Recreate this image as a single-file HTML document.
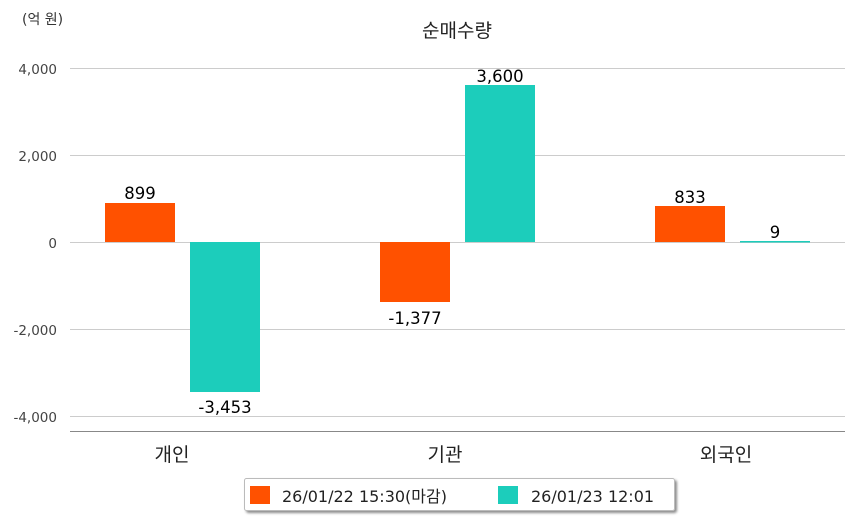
<!DOCTYPE html>
<html><head><meta charset="utf-8"><style>
html,body{margin:0;padding:0;background:#fff}
svg{display:block}
text{font-family:"DejaVu Sans","Noto Sans CJK KR",sans-serif}
</style></head><body>
<svg width="854" height="520" viewBox="0 0 854 520" xmlns="http://www.w3.org/2000/svg">
<defs><filter id="sh" x="-5%" y="-20%" width="110%" height="150%"><feDropShadow dx="2" dy="2" stdDeviation="1.2" flood-color="#000" flood-opacity="0.45"/></filter></defs>
<text x="22" y="24" font-size="14" fill="#333">(억 원)</text>
<text x="457" y="37" font-size="19" fill="#222" text-anchor="middle">순매수량</text>
<g stroke="#cccccc" stroke-width="1">
<line x1="70" y1="68.5" x2="845" y2="68.5"/>
<line x1="70" y1="155.5" x2="845" y2="155.5"/>
<line x1="70" y1="242.5" x2="845" y2="242.5"/>
<line x1="70" y1="329.5" x2="845" y2="329.5"/>
<line x1="70" y1="416.5" x2="845" y2="416.5"/>
</g>
<line x1="70" y1="431.5" x2="845" y2="431.5" stroke="#888" stroke-width="1"/>
<g font-size="13.5" fill="#444" text-anchor="end">
<text x="57" y="74">4,000</text>
<text x="57" y="161">2,000</text>
<text x="57" y="248">0</text>
<text x="57" y="335">-2,000</text>
<text x="57" y="422">-4,000</text>
</g>
<rect x="105" y="203" width="70" height="39" fill="#ff5100"/>
<rect x="190" y="242" width="70" height="150" fill="#1ccdbb"/>
<rect x="380" y="242" width="70" height="60" fill="#ff5100"/>
<rect x="465" y="85" width="70" height="157" fill="#1ccdbb"/>
<rect x="655" y="206" width="70" height="36" fill="#ff5100"/>
<rect x="740" y="241" width="70" height="1.5" fill="#1ccdbb"/>
<g font-size="16.5" fill="#000" text-anchor="middle">
<text x="140" y="199">899</text>
<text x="225" y="413">-3,453</text>
<text x="415" y="324">-1,377</text>
<text x="500" y="82">3,600</text>
<text x="690" y="203">833</text>
<text x="775" y="238">9</text>
</g>
<g font-size="19" fill="#222" text-anchor="middle">
<text x="172" y="461">개인</text>
<text x="445" y="461">기관</text>
<text x="726" y="461">외국인</text>
</g>
<rect x="244.5" y="478.5" width="430" height="32" fill="#fff" stroke="#bbb" filter="url(#sh)" rx="2"/>
<rect x="250" y="486" width="20" height="18" fill="#ff5100"/>
<text x="282" y="502" font-size="16" fill="#222">26/01/22 15:30(마감)</text>
<rect x="498" y="486" width="20" height="18" fill="#1ccdbb"/>
<text x="531" y="502" font-size="16" fill="#222">26/01/23 12:01</text>
</svg>
</body></html>
